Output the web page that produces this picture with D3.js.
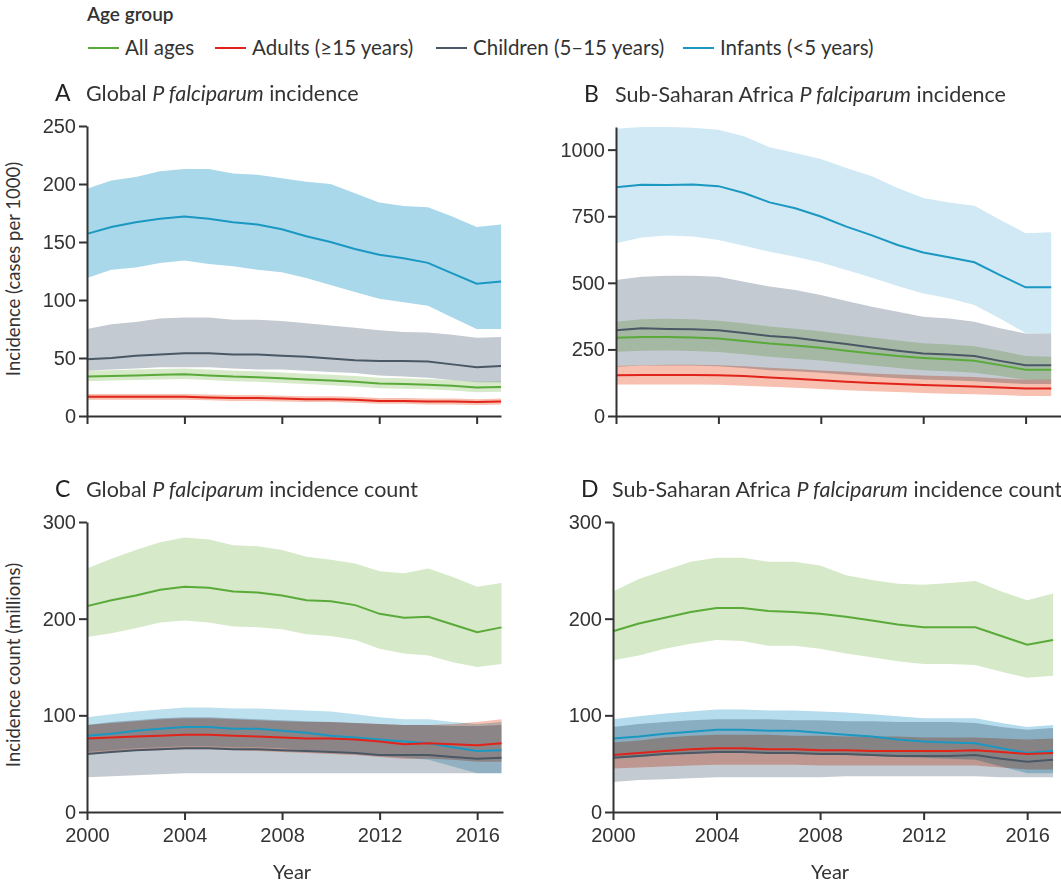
<!DOCTYPE html>
<html>
<head>
<meta charset="utf-8">
<script src="https://cdn.jsdelivr.net/npm/d3@7"></script>
<style>
  body { margin: 0; background: #fff; }
  svg { font-family: Lato, "Open Sans", sans-serif; }
  .axis path, .axis line { stroke: #333; stroke-width: 2; }
  .axis text { fill: #333; font-size: 20px; }
  .band { mix-blend-mode: multiply; }
</style>
</head>
<body>
<svg width="1061" height="882"></svg>
<script>
const years = [2000,2001,2002,2003,2004,2005,2006,2007,2008,2009,2010,2011,2012,2013,2014,2015,2016,2017]

// A: global incidence (cases per 1000)
const aAllMid = [34,34.5,35,35.5,36,35,34,33.5,32.5,31.5,30.5,29.5,28,27.5,27,26,24.5,25]
const aAllLo = [30,30.5,31,31.5,32,31,30,29.5,28.5,27.5,26.5,25.5,24,23.5,23,22,20.5,21]
const aAllHi = [39,39.5,40,40.5,41,40,39,38.5,37.5,36.5,35.5,34.5,33,32.5,32,31,29.5,30]
const aAdMid = [16.5,16.5,16.5,16.5,16.5,16,15.5,15.5,15,14.5,14.5,14,13,13,12.5,12.5,12,12.5]
const aAdLo = [14,14,14,14,14,13.5,13,13,12.5,12,12,11.5,10.5,10.5,10,10,9.5,10]
const aAdHi = [19,19,19,19,19,18.5,18,18,17.5,17,17,16.5,15.5,15.5,15,15,14.5,15]
const aChMid = [49,50,52,53,54,54,53,53,52,51,49.5,48,47.5,47.5,47,44.5,42,43]
const aChLo = [39,40,41,42,42,42,41,40,40,39,38,37,35,34,33,31,29,29]
const aChHi = [75,79,81,84,85,85,83,83,82,80,78,76,74,72.5,72,70,67.5,68]
const aInfMid = [157,163,167,170,172,170,167,165,161,155,150,144,139,136,132,123,114,116]
const aInfLo = [119,126,128,132,134,131,129,126,124,119,113,107,101,98,95,85,75,75]
const aInfHi = [196,203,206,211,213,213,209,208,205,202,200,192,184,181,180,172,163,165]

// B: sub-Saharan Africa incidence (cases per 1000)
const bAllMid = [294,297,297,295,291,282,272,265,256,245,235,225,218,213,207,191,174,174]
const bAllLo = [241,245,246,244,240,232,222,215,208,198,190,180,172,168,162,150,136,134]
const bAllHi = [354,363,365,363,358,348,336,328,318,306,295,283,273,268,262,245,225,222]
const bAdMid = [153,154,154,154,153,150,145,140,134,129,124,120,116,114,111,107,103,103]
const bAdLo = [118,118,118,118,117,114,110,106,101,97,93,90,86,84,82,79,75,75]
const bAdHi = [188,191,192,192,191,187,181,176,171,166,160,156,152,149,146,141,136,136]
const bChMid = [322,329,327,326,322,312,300,294,282,270,257,245,235,231,225,207,191,191]
const bChLo = [185,190,190,190,187,180,172,168,162,155,148,142,137,134,130,125,120,120]
const bChHi = [511,523,527,527,523,504,486,473,454,432,410,391,373,366,354,329,310,310]
const bInfMid = [859,868,867,869,863,837,802,780,749,711,678,642,614,596,577,529,483,483]
const bInfLo = [649,670,678,674,661,639,617,598,576,548,519,488,460,442,417,366,312,310]
const bInfHi = [1078,1085,1085,1082,1075,1050,1009,987,965,931,900,856,818,802,789,737,686,690]

// C: global incidence count (millions)
const cAllMid = [213,219,224,230,233,232,228,227,224,219,218,214,205,201,202,194,186,191]
const cAllLo = [181,185,190,196,198,196,192,191,189,184,182,178,169,164,162,155,150,153]
const cAllHi = [252,262,271,279,284,282,276,275,271,264,261,257,249,247,252,243,233,237]
const cAdMid = [76,77,78,79,80,80,79,78,77,76,76,75,73,70,71,70,69,71]
const cAdLo = [60,62,63,64,65,65,64,63,62,61,60,59,57,55,55,54,52,52]
const cAdHi = [90,92,94,96,97,97,96,95,94,93,93,92,91,90,90,91,93,96]
const cChMid = [60,62,64,65,66,66,65,65,64,63,62,61,59,59,59,57,55,56]
const cChLo = [36,37,38,39,40,40,40,40,40,40,40,40,40,40,40,40,40,40]
const cChHi = [90,93,95,97,98,98,97,96,95,94,93,92,91,90,90,89,89,90]
const cInfMid = [79,81,84,86,88,88,86,86,84,82,79,77,75,73,71,67,63,64]
const cInfLo = [62,64,66,67,68,68,67,67,66,64,62,60,58,56,54,47,40,40]
const cInfHi = [98,101,104,106,108,108,107,107,106,105,104,101,98,96,96,93,91,93]

// D: sub-Saharan Africa incidence count (millions)
const dAllMid = [187,195,201,207,211,211,208,207,205,202,198,194,191,191,191,182,173,178]
const dAllLo = [157,162,169,174,178,177,172,172,169,164,160,156,153,153,152,145,139,141]
const dAllHi = [228,241,250,259,263,263,259,259,255,245,240,236,235,237,239,228,219,226]
const dAdMid = [59,61,63,65,66,66,65,65,64,64,63,63,63,63,64,62,60,61]
const dAdLo = [45,46,47,48,49,49,49,49,48,48,48,48,48,48,48,46,44,44]
const dAdHi = [72,74,77,79,80,80,80,79,79,78,78,78,77,77,77,76,75,76]
const dChMid = [56,58,60,61,62,62,61,61,60,60,59,58,58,58,59,55,52,54]
const dChLo = [31,33,34,35,36,36,36,36,36,37,37,37,37,37,37,36,36,36]
const dChHi = [88,91,93,95,96,96,96,95,95,94,94,93,93,93,92,88,85,87]
const dInfMid = [76,78,81,83,85,85,84,84,82,80,78,75,73,72,71,66,61,63]
const dInfLo = [55,57,59,61,62,62,61,61,60,59,58,57,56,55,54,47,40,40]
const dInfHi = [96,99,102,104,106,106,105,105,104,103,101,99,97,97,97,92,88,90]

const groups = ['All ages', 'Adults (≥15 years)', 'Children (5–15 years)', 'Infants (<5 years)']
const lineColors = ['#5aaa3a', '#e2231a', '#4a5866', '#1b98c2']
const bandColors = ['#d6e9c8', '#f7c0b0', '#c4cad1', '#a9d8ea']
const xTicks = [2000, 2004, 2008, 2012, 2016]

const svg = d3.select('svg')

const panels = [
  { letter: 'A', pre: 'Global ', post: ' incidence', x0: 87, x1: 501, xMax: 2017, y0: 416, y1: 126, yMax: 250,
    yTicks: [0,50,100,150,200,250], xLabels: false, infFill: '#a9d8ea',
    series: [[aAllMid,aAllLo,aAllHi],[aAdMid,aAdLo,aAdHi],[aChMid,aChLo,aChHi],[aInfMid,aInfLo,aInfHi]] },
  { letter: 'B', pre: 'Sub-Saharan Africa ', post: ' incidence', x0: 616, x1: 1064, xMax: 2017.5, y0: 416, y1: 127, yMax: 1085,
    yTicks: [0,250,500,750,1000], xLabels: false, infFill: '#d0e9f4',
    series: [[bAllMid,bAllLo,bAllHi],[bAdMid,bAdLo,bAdHi],[bChMid,bChLo,bChHi],[bInfMid,bInfLo,bInfHi]] },
  { letter: 'C', pre: 'Global ', post: ' incidence count', x0: 87, x1: 503, xMax: 2017.06, y0: 812, y1: 522, yMax: 300,
    yTicks: [0,100,200,300], xLabels: true, infFill: '#bde0ee',
    series: [[cAllMid,cAllLo,cAllHi],[cAdMid,cAdLo,cAdHi],[cChMid,cChLo,cChHi],[cInfMid,cInfLo,cInfHi]] },
  { letter: 'D', pre: 'Sub-Saharan Africa ', post: ' incidence count', x0: 613, x1: 1066, xMax: 2017.5, y0: 812, y1: 522, yMax: 300,
    yTicks: [0,100,200,300], xLabels: true, infFill: '#b4dcec',
    series: [[dAllMid,dAllLo,dAllHi],[dAdMid,dAdLo,dAdHi],[dChMid,dChLo,dChHi],[dInfMid,dInfLo,dInfHi]] }
]

// band drawing order: infants, children, all ages, adults
const bandOrder = [3, 2, 0, 1]
const lineOrder = [2, 3, 1, 0]

panels.forEach(p => {
  const x = d3.scaleLinear().domain([2000, p.xMax]).range([p.x0, p.x1])
  const y = d3.scaleLinear().domain([0, p.yMax]).range([p.y0, p.y1])
  const g = svg.append('g').style('isolation', 'isolate')

  const area = d3.area()
    .x((d, i) => x(years[i]))
    .y0(d => y(d[0]))
    .y1(d => y(d[1]))
  const line = d3.line()
    .x((d, i) => x(years[i]))
    .y(d => y(d))

  bandOrder.forEach(k => {
    const [mid, lo, hi] = p.series[k]
    g.append('path')
      .attr('class', 'band')
      .datum(lo.map((v, i) => [v, hi[i]]))
      .attr('d', area)
      .attr('fill', k === 3 ? p.infFill : bandColors[k])
  })

  lineOrder.forEach(k => {
    g.append('path')
      .datum(p.series[k][0])
      .attr('d', line)
      .attr('fill', 'none')
      .attr('stroke', lineColors[k])
      .attr('stroke-width', 2)
  })

  const xAxis = d3.axisBottom(x).tickValues(xTicks).tickSize(8).tickSizeOuter(0)
    .tickFormat(p.xLabels ? d3.format('d') : '')
  g.append('g').attr('class', 'axis')
    .attr('transform', `translate(0,${p.y0})`)
    .call(xAxis)
    .call(s => s.selectAll('text').attr('dy', '0.95em'))

  g.append('g').attr('class', 'axis')
    .attr('transform', `translate(${p.x0},0)`)
    .call(d3.axisLeft(y).tickValues(p.yTicks).tickSize(8).tickSizeOuter(0).tickPadding(3)
      .tickFormat(d3.format('d')))

  const titleY = p.y1 - 25
  g.append('text')
    .attr('x', p.x0 - 32).attr('y', titleY)
    .attr('font-size', 23).attr('fill', '#222')
    .text(p.letter)
  const t = g.append('text')
    .attr('x', p.x0 - 1).attr('y', titleY)
    .attr('font-size', 21.5).attr('fill', '#333')
  t.append('tspan').text(p.pre)
  t.append('tspan').attr('font-style', 'italic').text('P falciparum')
  t.append('tspan').text(p.post)

  if (p.xLabels) {
    g.append('text')
      .attr('x', (p.x0 + x(2016)) / 2 + 10).attr('y', 879)
      .attr('text-anchor', 'middle').attr('font-size', 20).attr('fill', '#333')
      .text('Year')
  }
})

svg.append('text')
  .attr('transform', 'translate(20,269) rotate(-90)')
  .attr('text-anchor', 'middle').attr('font-size', 18.5).attr('fill', '#333')
  .text('Incidence (cases per 1000)')
svg.append('text')
  .attr('transform', 'translate(20,665) rotate(-90)')
  .attr('text-anchor', 'middle').attr('font-size', 18.5).attr('fill', '#333')
  .text('Incidence count (millions)')

// legend
svg.append('text')
  .attr('x', 87).attr('y', 21)
  .attr('font-size', 19).attr('font-weight', 600).attr('fill', '#333')
  .text('Age group')

const legendX = [88, 215, 436, 683]
const legend = svg.append('g').selectAll('g')
  .data(groups)
  .enter().append('g')
    .attr('transform', (d, i) => `translate(${legendX[i]},48)`)
legend.append('line')
  .attr('x1', 0).attr('x2', 31)
  .attr('stroke', (d, i) => lineColors[i])
  .attr('stroke-width', 2)
legend.append('text')
  .attr('x', 37).attr('dy', '0.35em')
  .attr('font-size', 20.5).attr('fill', '#333')
  .text(d => d)
</script>
</body>
</html>
